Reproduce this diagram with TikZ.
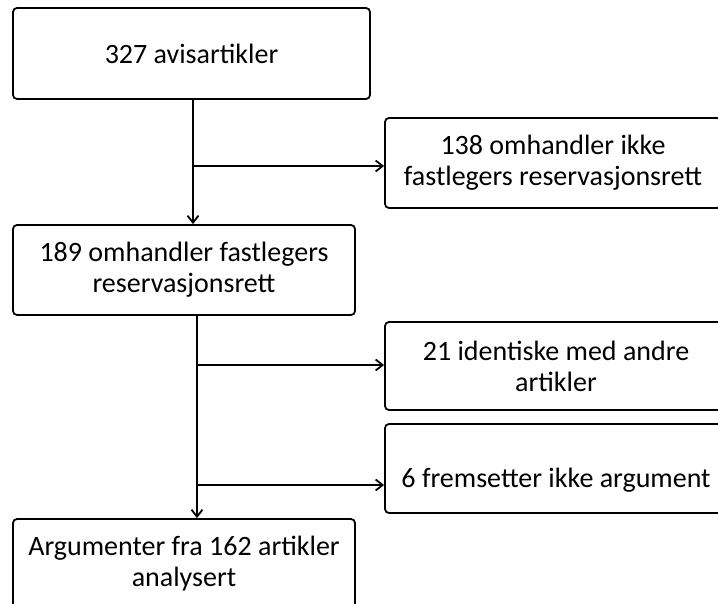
\documentclass[tikz,border=0pt]{standalone}
\usepackage{fontspec}
\setmainfont{Carlito}
\usetikzlibrary{arrows.meta}
\tikzset{
  box/.style={draw=black, line width=1.8pt, rounded corners=4pt, align=center,
    inner sep=0pt, font=\fontsize{28}{31}\selectfont},
  txt/.style={inner sep=0pt, align=center, font=\fontsize{28}{31}\selectfont},
  arr/.style={line width=1.8pt, -{Straight Barb[length=7pt,width=11pt,line width=1.8pt]}},
}
\begin{document}
\begin{tikzpicture}[x=1pt,y=-1pt]
\useasboundingbox (0,0) rectangle (718,604);
\clip (0,0) rectangle (718,604);
\node[box, minimum width=357pt, minimum height=91pt] (b1) at (191.5,53.5) {327 avisartikler};
\node[box, minimum width=342pt, minimum height=90pt] (b2) at (184,270) {189 omhandler fastlegers\\reservasjonsrett};
\node[box, minimum width=342pt, minimum height=90pt] (b3) at (184,564) {Argumenter fra 162 artikler\\analysert};
\node[box, minimum width=336pt, minimum height=90pt] (r1) at (553,163) {138 omhandler ikke\\fastlegers reservasjonsrett};
\node[box, minimum width=342pt, minimum height=88pt] (r2) at (556,366) {21 identiske med andre\\artikler};
\node[box, minimum width=342pt, minimum height=89pt] (r3) at (556,468.5) {};
\node[txt] (r3t) at (556,480) {6 fremsetter ikke argument};
\coordinate (v1) at (193,166);
\coordinate (v2) at (197,365);
\coordinate (v3) at (197,485);
\draw[arr] (v1 |- b1.south) -- (v1 |- b2.north);
\draw[arr] (v1) -- (r1.west |- v1);
\draw[arr] (v2 |- b2.south) -- (v2 |- b3.north);
\draw[arr] (v2) -- (r2.west |- v2);
\draw[arr] (v3) -- (r3.west |- v3);
\end{tikzpicture}
\end{document}
